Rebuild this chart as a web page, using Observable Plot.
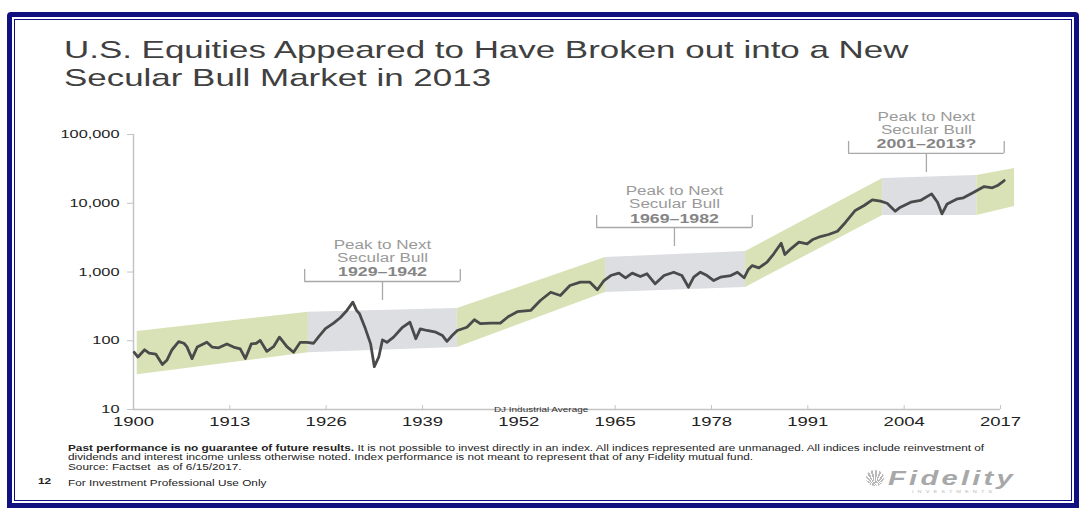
<!DOCTYPE html>
<html><head><meta charset="utf-8">
<script src="https://cdn.jsdelivr.net/npm/d3@7"></script>
<script src="https://cdn.jsdelivr.net/npm/@observablehq/plot@0.6"></script>
<style>
html,body{margin:0;padding:0;background:#fff;width:1081px;height:508px;overflow:hidden;font-family:"Liberation Sans",Arial,sans-serif;}
#outer{position:absolute;left:7px;top:12px;width:1072px;height:496px;box-sizing:border-box;border:5px solid #101080;border-radius:4px 4px 0 0;}
#inner{position:absolute;left:2px;top:2px;right:2px;bottom:2px;border:1.5px solid #101080;}
.st{position:absolute;transform-origin:0 0;transform:scaleX(1.42);white-space:nowrap;}
.title{font-size:24.6px;line-height:1;color:#404040;}
.foot{font-size:8.3px;line-height:1;color:#222;}
#chart{position:absolute;left:0;top:100px;}
#logo{position:absolute;left:866px;top:470px;white-space:nowrap;}
</style></head>
<body>
<div id="outer"><div id="inner"></div></div>
<div class="st title" style="left:64px;top:38px">U.S. Equities Appeared to Have Broken out into a New</div>
<div class="st title" style="left:64px;top:66px">Secular Bull Market in 2013</div>
<div id="chart"></div>
<div class="st foot" style="left:68px;top:444px"><b>Past performance is no guarantee of future results.</b> It is not possible to invest directly in an index. All indices represented are unmanaged. All indices include reinvestment of</div>
<div class="st foot" style="left:68px;top:453px">dividends and interest income unless otherwise noted. Index performance is not meant to represent that of any Fidelity mutual fund.</div>
<div class="st foot" style="left:68px;top:463px">Source: Factset&nbsp; as of 6/15/2017.</div>
<div class="st foot" style="left:38px;top:477px;font-weight:bold">12</div>
<div class="st foot" style="left:68px;top:479px">For Investment Professional Use Only</div>
<div id="logo">
  <span style="display:inline-block;width:18px;height:16px;border-radius:50%;background:repeating-conic-gradient(from 200deg at 50% 100%,#b8b8b8 0 9deg,#fff 9deg 16deg);vertical-align:-1px"></span>
  <span class="st" style="position:absolute;left:22px;top:-4px;font-size:20.5px;font-weight:bold;font-style:italic;color:#a8a8a8;letter-spacing:2.3px;transform:scaleX(1.42)">Fidelity</span>
  <span class="st" style="position:absolute;left:46px;top:19px;font-size:4px;color:#bbb;letter-spacing:2.8px">INVESTMENTS</span>
</div>
<script>
// ---- data ----
const xTicks = [1900, 1913, 1926, 1939, 1952, 1965, 1978, 1991, 2004, 2017];
const yTicks = [10, 100, 1000, 10000, 100000];

const djiaYear = [1900.1,1900.6,1901.5,1902.1,1903.0,1903.9,1904.5,1905.2,1906.1,1906.8,1907.2,1907.9,1908.6,1909.9,1910.6,1911.5,1912.6,1913.5,1914.4,1915.1,1915.9,1916.6,1917.1,1918.0,1918.9,1919.7,1920.7,1921.6,1922.5,1923.4,1924.3,1925.0,1925.9,1927.0,1927.9,1928.8,1929.6,1930.1,1930.5,1931.3,1932.0,1932.5,1933.1,1933.6,1934.2,1935.1,1936.3,1937.3,1938.1,1938.7,1939.6,1940.8,1941.7,1942.3,1943.0,1943.7,1945.0,1946.0,1946.8,1948.2,1949.5,1950.6,1951.8,1953.6,1954.9,1956.3,1957.6,1958.9,1960.3,1961.6,1962.6,1963.5,1964.4,1965.5,1966.4,1967.3,1968.4,1969.3,1970.4,1971.6,1972.9,1974.0,1974.9,1975.6,1976.5,1977.4,1978.3,1979.2,1980.6,1981.5,1982.4,1983.0,1983.5,1984.4,1985.5,1986.4,1987.4,1987.9,1988.7,1989.8,1990.9,1991.6,1992.7,1993.8,1995.0,1996.1,1997.4,1998.6,1999.7,2000.8,2001.7,2002.8,2003.5,2004.9,2006.2,2007.7,2008.5,2009.1,2009.8,2011.2,2012.0,2013.4,2014.8,2015.9,2016.6,2017.5];
const djiaValue = [68,58,74,66,64,45,52,74,97,92,82,55,81,95,81,79,90,81,76,55,90,92,101,70,82,113,82,68,95,95,92,115,150,180,216,276,364,276,247,149,90,42,58,103,95,113,157,186,107,149,141,133,119,98,119,141,157,202,177,180,180,225,265,276,385,508,455,636,711,711,551,752,889,962,820,962,860,942,673,889,993,889,601,840,993,889,752,840,889,993,824,1100,1240,1150,1390,1840,2625,1800,2175,2713,2570,2940,3280,3510,3920,5300,7850,9270,11200,10720,10000,7660,8770,10360,10970,13700,10360,7010,9770,11620,12000,14500,17500,16800,18100,21400];

// trend channels: corner years, upper and lower bounds, and phase of each segment
const bandEdgeYear = [1900.5, 1923.6, 1943.7, 1963.7, 1982.6, 2001.1, 2013.8, 2018.9];
const bandHigh = [136, 260, 294, 1625, 1987, 22900, 25400, 32000];
const bandLow = [32, 67, 80, 504, 596, 6640, 6640, 8980];
const bandPhase = ["bull", "range", "bull", "range", "bull", "range", "bull"];

// "Peak to Next Secular Bull" brackets
const bracketPeriod = ["1929\u20131942", "1969\u20131982", "2001\u20132013?"];
const bracketStart = [1923.1, 1962.5, 1996.5];
const bracketEnd = [1944.1, 1983.5, 2017.5];
const bracketMid = [1933.6, 1973.0, 2007.0];
const bracketLevel = [728, 4436, 52970];
const bracketCap = [1087, 6640, 79100];
const bracketFoot = [385, 2350, 28000];

const seriesName = "DJ Industrial Average";

// ---- build tables ----
const djia = djiaYear.map((y, i) => ({year: y, value: djiaValue[i]}));
const bands = [];
bandPhase.forEach((p, i) => {
  bands.push({seg: i, phase: p, year: bandEdgeYear[i], lo: bandLow[i], hi: bandHigh[i]});
  bands.push({seg: i, phase: p, year: bandEdgeYear[i + 1], lo: bandLow[i + 1], hi: bandHigh[i + 1]});
});
const brackets = bracketPeriod.map((t, i) => ({period: t, x0: bracketStart[i], x1: bracketEnd[i], mid: bracketMid[i], level: bracketLevel[i], cap: bracketCap[i], foot: bracketFoot[i]}));

const GREEN = "#d9e2b6", GREY = "#dcdee2", AXIS = "#c4c4c4", BR = "#a8a8a8";

const plot = Plot.plot({
  width: 1081, height: 340,
  marginLeft: 133, marginRight: 81, marginTop: 34, marginBottom: 31,
  style: {fontFamily: "'Liberation Sans', Arial, sans-serif", background: "transparent", overflow: "visible"},
  x: {domain: [1900, 2017]},
  y: {type: "log", domain: [10, 100000]},
  marks: [
    Plot.areaY(bands, {x: "year", y1: "lo", y2: "hi", z: "seg", fill: d => d.phase === "bull" ? GREEN : GREY}),
    Plot.ruleY([10], {stroke: AXIS, strokeWidth: 1.5}),
    Plot.ruleX([1900], {stroke: AXIS, strokeWidth: 1.5}),
    Plot.ruleX(xTicks.slice(1), {y1: 10, y2: 11.4, stroke: AXIS}),
    Plot.axisY({ticks: yTicks, tickFormat: d3.format(","), tickSize: 6, tickPadding: 8, fontSize: 11.5, stroke: AXIS, fill: "#222", label: null}),
    Plot.axisX({ticks: xTicks, tickFormat: d => String(d), tickSize: 0, tickPadding: 7, fontSize: 13, fill: "#222", label: null}),
    Plot.text([seriesName], {x: 1955.0, y: 10, text: d => d, lineAnchor: "middle", dy: 0.5, fontSize: 7, fill: "#333"}),
    Plot.line(djia, {x: "year", y: "value", stroke: "#4a4a4a", strokeWidth: 2.8, strokeLinejoin: "round"}),
    Plot.ruleY(brackets, {y: "level", x1: "x0", x2: "x1", stroke: BR, strokeWidth: 1.3}),
    Plot.ruleX(brackets, {x: "x0", y1: "level", y2: "cap", stroke: BR, strokeWidth: 1.3}),
    Plot.ruleX(brackets, {x: "x1", y1: "level", y2: "cap", stroke: BR, strokeWidth: 1.3}),
    Plot.ruleX(brackets, {x: "mid", y1: "level", y2: "foot", stroke: BR, strokeWidth: 1.3}),
    Plot.text(brackets, {x: "mid", y: "level", text: () => "Peak to Next", dy: -36, fontSize: 12, fill: "#9a9a9a"}),
    Plot.text(brackets, {x: "mid", y: "level", text: () => "Secular Bull", dy: -23, fontSize: 12, fill: "#9a9a9a"}),
    Plot.text(brackets, {x: "mid", y: "level", text: "period", dy: -9, fontSize: 12.5, fontWeight: "bold", fill: "#858585"})
  ]
});
document.getElementById("chart").appendChild(plot);
// the reference slide is stretched horizontally: widen glyphs the same way
plot.querySelectorAll("text").forEach(t => {
  const w = t.getComputedTextLength();
  if (w > 0) { t.setAttribute("textLength", (w * 1.42).toFixed(1)); t.setAttribute("lengthAdjust", "spacingAndGlyphs"); }
});
</script>
</body></html>
